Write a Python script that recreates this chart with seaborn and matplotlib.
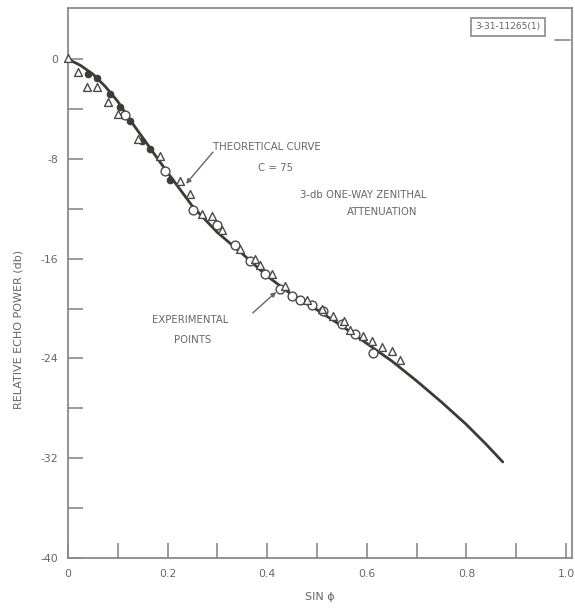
import numpy as np
import pandas as pd
import matplotlib
matplotlib.use("Agg")
import matplotlib.pyplot as plt
import seaborn as sns

# Theoretical curve, C = 75 (relative echo power in db vs sin phi)
curve_sin = [0.0, 0.025, 0.05, 0.075, 0.1, 0.125, 0.15, 0.175, 0.2, 0.25, 0.3,
             0.35, 0.4, 0.45, 0.5, 0.55, 0.6, 0.65, 0.7, 0.75, 0.8, 0.84, 0.873]
curve_db = [0.0, -0.5, -1.2, -2.2, -3.4, -4.9, -6.3, -7.7, -9.1, -11.8, -13.9,
            -15.6, -17.4, -18.9, -20.1, -21.4, -22.8, -24.2, -25.8, -27.5, -29.3,
            -30.9, -32.3]

# Experimental points, triangles
tri_sin = [0.0, 0.02, 0.038, 0.058, 0.08, 0.10, 0.14, 0.185, 0.225, 0.245, 0.269,
           0.289, 0.31, 0.345, 0.375, 0.386, 0.41, 0.436, 0.48, 0.51, 0.532, 0.555,
           0.566, 0.592, 0.61, 0.63, 0.65, 0.667]
tri_db = [0.1, -1.0, -2.2, -2.2, -3.4, -4.4, -6.4, -7.8, -9.8, -10.8, -12.4,
          -12.6, -13.7, -15.2, -16.0, -16.5, -17.2, -18.2, -19.3, -20.0, -20.6, -21.0,
          -21.7, -22.2, -22.6, -23.1, -23.4, -24.1]

# Experimental points, open circles
circ_sin = [0.114, 0.195, 0.251, 0.299, 0.335, 0.365, 0.396, 0.426, 0.45, 0.466,
            0.49, 0.512, 0.55, 0.576, 0.612]
circ_db = [-4.5, -9.0, -12.1, -13.3, -14.9, -16.2, -17.2, -18.4, -19.0, -19.3,
           -19.7, -20.2, -21.2, -22.0, -23.6]

# Experimental points, filled
dot_sin = [0.04, 0.058, 0.084, 0.104, 0.124, 0.148, 0.165, 0.205]
dot_db = [-1.2, -1.5, -2.8, -3.8, -5.0, -6.6, -7.2, -9.7]

INK = "#3a3d33"
GRAY = "#666666"
FRAME = "#8a8a8a"

sns.set_theme(style="white")
plt.rcParams["font.family"] = ["DejaVu Sans"]

fig = plt.figure(figsize=(5.75, 6.10), dpi=100)
ax = fig.add_axes([68 / 575, 52 / 610, 504 / 575, 550 / 610])

curve = pd.DataFrame({"sin": curve_sin, "db": curve_db})
tri = pd.DataFrame({"sin": tri_sin, "db": tri_db})
circ = pd.DataFrame({"sin": circ_sin, "db": circ_db})
dots = pd.DataFrame({"sin": dot_sin, "db": dot_db})

sns.lineplot(data=curve, x="sin", y="db", ax=ax, color=INK, lw=2.0, zorder=2)
sns.scatterplot(data=dots, x="sin", y="db", ax=ax, marker="o", s=22,
                color=INK, edgecolor=INK, linewidth=0.8, zorder=3)
sns.scatterplot(data=circ, x="sin", y="db", ax=ax, marker="o", s=40,
                facecolor="white", edgecolor="#4a4a4a", linewidth=1.0, zorder=4)
sns.scatterplot(data=tri, x="sin", y="db", ax=ax, marker="^", s=32,
                facecolor="white", edgecolor="#4a4a4a", linewidth=1.0, zorder=4,
                clip_on=False)

ax.set_xlim(0, 1.012)
ax.set_ylim(-40, 4.1)

ax.set_xticks(np.arange(0, 1.01, 0.2))
ax.set_xticklabels(["0", "0.2", "0.4", "0.6", "0.8", "1.0"])
ax.set_xticks(np.arange(0.1, 1.0, 0.2), minor=True)
ax.set_yticks([0, -8, -16, -24, -32, -40])
ax.set_yticklabels(["0", "-8", "-16", "-24", "-32", "-40"])
ax.set_yticks([-4, -12, -20, -28, -36], minor=True)

ax.tick_params(which="both", direction="in", length=11, width=1.2, color=FRAME,
               labelcolor=GRAY, labelsize=7.8)
ax.tick_params(axis="x", which="both", pad=8)
ax.tick_params(axis="y", which="both", pad=7)
ax.tick_params(which="both", top=False, right=False, bottom=True, left=True)

for side, sp in ax.spines.items():
    sp.set_visible(True)
    sp.set_color(FRAME)
    sp.set_linewidth(1.3)

ax.set_xlabel("SIN \u03d5", color=GRAY, fontsize=8)
ax.xaxis.set_label_coords(0.5, -0.062)
ax.set_ylabel("RELATIVE ECHO POWER (db)", color=GRAY, fontsize=8)
ax.yaxis.set_label_coords(-0.088, 0.415)

txt = dict(color=GRAY, fontsize=7.3, ha="center", va="center")
ax.text(0.40, -7.05, "THEORETICAL CURVE", **txt)
ax.text(0.416, -8.73, "C = 75", **txt)
ax.text(0.592, -10.9, "3-db ONE-WAY ZENITHAL", **txt)
ax.text(0.63, -12.26, "ATTENUATION", **txt)
ax.text(0.245, -20.9, "EXPERIMENTAL", **txt)
ax.text(0.251, -22.5, "POINTS", **txt)

arrow = dict(arrowstyle="-|>", lw=1.0, color=GRAY, mutation_scale=7,
             shrinkA=0, shrinkB=0)
ax.annotate("", xy=(0.237, -10.0), xytext=(0.291, -7.45), arrowprops=arrow)
ax.annotate("", xy=(0.418, -18.67), xytext=(0.371, -20.35), arrowprops=arrow)

# Drawing number stamp in the upper right corner
fig.text(508 / 575, 1 - 27 / 610, "3-31-11265(1)", color=GRAY, fontsize=6.5,
         ha="center", va="center",
         bbox=dict(boxstyle="square,pad=0.45", fc="white", ec=FRAME, lw=1.2))
fig.add_artist(plt.Line2D([555 / 575, 570 / 575], [1 - 40 / 610, 1 - 40 / 610],
                          color=FRAME, lw=1.2, transform=fig.transFigure))

fig.savefig("out.png", dpi=100, facecolor="white")
